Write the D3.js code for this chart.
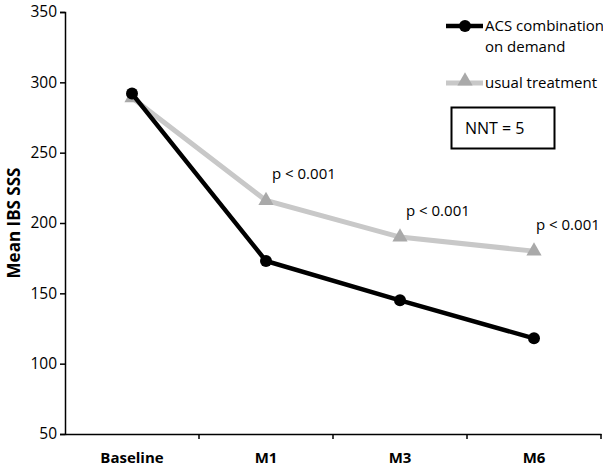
<!DOCTYPE html>
<html><head><meta charset="utf-8">
<script src="https://cdn.jsdelivr.net/npm/d3@7"></script>
<style>body{margin:0;background:#fff;} svg{display:block;font-family:"Open Sans",sans-serif;}</style>
</head><body>
<svg id="c" width="603" height="469"></svg>
<script>
const categories = ["Baseline", "M1", "M3", "M6"];
const acsValues = [292, 173, 145, 118];
const usualValues = [289, 216, 190, 180];
const yTicks = [50, 100, 150, 200, 250, 300, 350];
const pLabels = ["", "p < 0.001", "p < 0.001", "p < 0.001"];
const seriesNames = ["ACS combination", "on demand", "usual treatment"];

const svg = d3.select("#c");
const x0 = 65, x1 = 601, yTop = 12, yBot = 434;
const x = d3.scaleBand().domain(categories).range([x0, x1]);
const y = d3.scaleLinear().domain([50, 350]).range([yBot, yTop]);

// Y axis
const ya = svg.append("g").attr("transform", `translate(${x0},0)`)
  .call(d3.axisLeft(y).tickValues(yTicks).tickSize(5).tickPadding(3));
ya.select(".domain").attr("stroke", "#000").attr("stroke-width", 1.5);
ya.selectAll(".tick line").attr("stroke", "#000").attr("stroke-width", 1.5);
ya.selectAll("text").attr("font-size", 15.5).attr("fill", "#000").attr("font-family", "Open Sans");

// X axis
const xa = svg.append("g").attr("transform", `translate(0,${yBot})`)
  .call(d3.axisBottom(x).tickSize(0).tickPadding(18));
xa.select(".domain").attr("stroke", "#000").attr("stroke-width", 1.5);
xa.selectAll("text").attr("font-size", 15).attr("font-weight", "bold").attr("fill", "#000").attr("font-family", "Open Sans");
// boundary ticks
const bounds = categories.map(c => x(c) + x.bandwidth());
svg.append("g").selectAll("line").data(bounds).join("line")
  .attr("x1", d => d).attr("x2", d => d).attr("y1", yBot).attr("y2", yBot + 5)
  .attr("stroke", "#000").attr("stroke-width", 1.5);

// Y label
svg.append("text").attr("transform", `translate(20,${(yTop + yBot) / 2}) rotate(-90)`)
  .attr("text-anchor", "middle").attr("font-size", 17).attr("font-weight", "bold").text("Mean IBS SSS");

const cx = c => x(c) + x.bandwidth() / 2;
const line = d3.line().x((d, i) => cx(categories[i])).y(d => y(d));

// usual treatment (gray)
svg.append("path").datum(usualValues).attr("d", line).attr("fill", "none")
  .attr("stroke", "#c8c8c8").attr("stroke-width", 5);
const tri = d3.symbol().type(d3.symbolTriangle).size(100);
svg.append("g").selectAll("path").data(usualValues).join("path")
  .attr("d", tri).attr("transform", (d, i) => `translate(${cx(categories[i])},${y(d)})`)
  .attr("fill", "#a9a9a9");

// ACS (black)
svg.append("path").datum(acsValues).attr("d", line).attr("fill", "none")
  .attr("stroke", "#000").attr("stroke-width", 4.5);
svg.append("g").selectAll("circle").data(acsValues).join("circle")
  .attr("cx", (d, i) => cx(categories[i])).attr("cy", d => y(d)).attr("r", 6).attr("fill", "#000");

// p labels
svg.append("g").selectAll("text").data(pLabels).join("text")
  .attr("x", (d, i) => cx(categories[i]) + (i === 3 ? 2 : 6))
  .attr("y", (d, i) => y(usualValues[i]) - 21)
  .attr("font-size", 15).text(d => d);

// Legend
const lg = svg.append("g");
lg.append("line").attr("x1", 446).attr("x2", 483).attr("y1", 26).attr("y2", 26).attr("stroke", "#000").attr("stroke-width", 4.5);
lg.append("circle").attr("cx", 465).attr("cy", 26).attr("r", 6).attr("fill", "#000");
lg.append("text").attr("x", 485).attr("y", 31).attr("font-size", 15).text(seriesNames[0]);
lg.append("text").attr("x", 485).attr("y", 52).attr("font-size", 15).text(seriesNames[1]);
lg.append("line").attr("x1", 446).attr("x2", 483).attr("y1", 83).attr("y2", 83).attr("stroke", "#c8c8c8").attr("stroke-width", 5);
lg.append("path").attr("d", tri).attr("transform", "translate(465,81)").attr("fill", "#a9a9a9");
lg.append("text").attr("x", 485).attr("y", 88).attr("font-size", 15).text(seriesNames[2]);

// NNT box
lg.append("rect").attr("x", 451.5).attr("y", 107.5).attr("width", 103).attr("height", 41)
  .attr("fill", "none").attr("stroke", "#000").attr("stroke-width", 2);
lg.append("text").attr("x", 465).attr("y", 134).attr("font-size", 16).text("NNT = 5");
</script>
</body></html>
